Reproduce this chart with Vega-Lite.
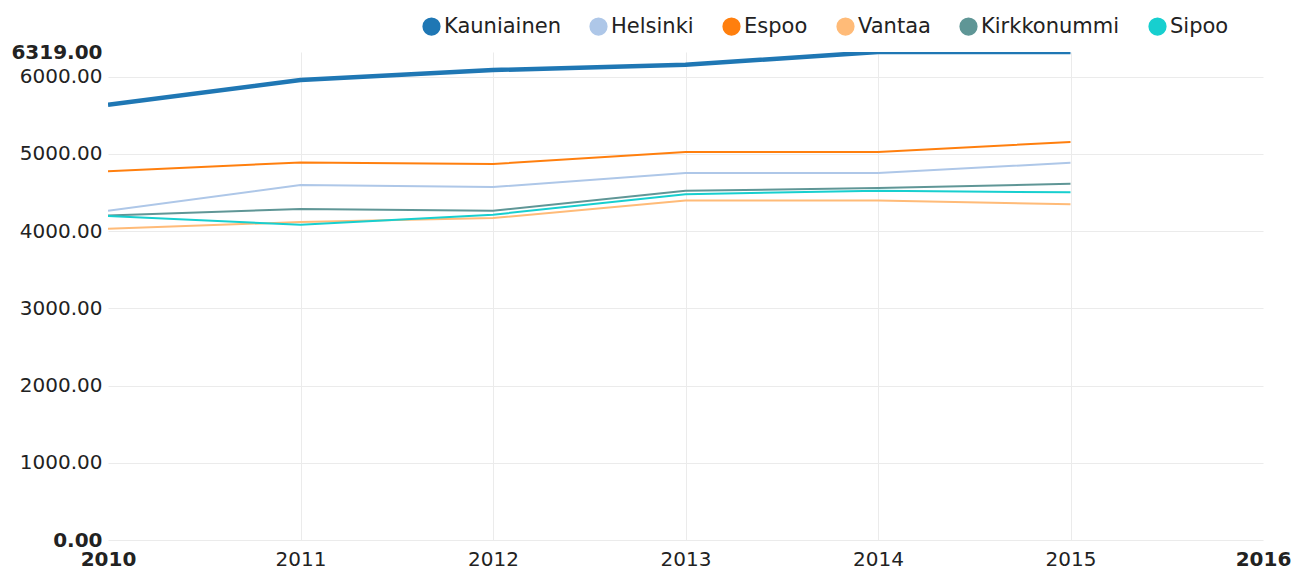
{
  "$schema": "https://vega.github.io/schema/vega-lite/v6.json",
  "autosize": "none",
  "width": 1155,
  "height": 488,
  "padding": {"left": 108, "top": 52, "right": 30, "bottom": 29},
  "background": "white",
  "config": {
    "view": {"stroke": null},
    "font": "DejaVu Sans"
  },
  "data": {
    "values": [
      {"kunta": "Kauniainen", "vuosi": 2010, "arvo": 5637},
      {"kunta": "Kauniainen", "vuosi": 2011, "arvo": 5955},
      {"kunta": "Kauniainen", "vuosi": 2012, "arvo": 6085},
      {"kunta": "Kauniainen", "vuosi": 2013, "arvo": 6155},
      {"kunta": "Kauniainen", "vuosi": 2014, "arvo": 6319},
      {"kunta": "Kauniainen", "vuosi": 2015, "arvo": 6319},
      {"kunta": "Helsinki", "vuosi": 2010, "arvo": 4263},
      {"kunta": "Helsinki", "vuosi": 2011, "arvo": 4597},
      {"kunta": "Helsinki", "vuosi": 2012, "arvo": 4571},
      {"kunta": "Helsinki", "vuosi": 2013, "arvo": 4752},
      {"kunta": "Helsinki", "vuosi": 2014, "arvo": 4752},
      {"kunta": "Helsinki", "vuosi": 2015, "arvo": 4885},
      {"kunta": "Espoo", "vuosi": 2010, "arvo": 4775},
      {"kunta": "Espoo", "vuosi": 2011, "arvo": 4889},
      {"kunta": "Espoo", "vuosi": 2012, "arvo": 4868},
      {"kunta": "Espoo", "vuosi": 2013, "arvo": 5024},
      {"kunta": "Espoo", "vuosi": 2014, "arvo": 5024},
      {"kunta": "Espoo", "vuosi": 2015, "arvo": 5154},
      {"kunta": "Vantaa", "vuosi": 2010, "arvo": 4030},
      {"kunta": "Vantaa", "vuosi": 2011, "arvo": 4117},
      {"kunta": "Vantaa", "vuosi": 2012, "arvo": 4169},
      {"kunta": "Vantaa", "vuosi": 2013, "arvo": 4397},
      {"kunta": "Vantaa", "vuosi": 2014, "arvo": 4395},
      {"kunta": "Vantaa", "vuosi": 2015, "arvo": 4348},
      {"kunta": "Kirkkonummi", "vuosi": 2010, "arvo": 4203},
      {"kunta": "Kirkkonummi", "vuosi": 2011, "arvo": 4285},
      {"kunta": "Kirkkonummi", "vuosi": 2012, "arvo": 4263},
      {"kunta": "Kirkkonummi", "vuosi": 2013, "arvo": 4522},
      {"kunta": "Kirkkonummi", "vuosi": 2014, "arvo": 4557},
      {"kunta": "Kirkkonummi", "vuosi": 2015, "arvo": 4613},
      {"kunta": "Sipoo", "vuosi": 2010, "arvo": 4194},
      {"kunta": "Sipoo", "vuosi": 2011, "arvo": 4082},
      {"kunta": "Sipoo", "vuosi": 2012, "arvo": 4212},
      {"kunta": "Sipoo", "vuosi": 2013, "arvo": 4478},
      {"kunta": "Sipoo", "vuosi": 2014, "arvo": 4522},
      {"kunta": "Sipoo", "vuosi": 2015, "arvo": 4502}
    ]
  },
  "mark": {"type": "line", "clip": true},
  "encoding": {
    "x": {
      "field": "vuosi",
      "type": "quantitative",
      "scale": {"domain": [2010, 2016], "nice": false, "zero": false},
      "axis": {
        "title": null,
        "values": [2010, 2011, 2012, 2013, 2014, 2015, 2016],
        "format": "d",
        "domain": false,
        "ticks": false,
        "labelPadding": 9,
        "labelFontSize": 20,
        "labelColor": "#222222",
        "labelFontWeight": {"condition": {"test": "datum.value == 2010 || datum.value == 2016", "value": "bold"}, "value": "normal"},
        "labelOverlap": false,
        "labelFlush": false,
        "gridColor": "#ebebeb",
        "gridOpacity": {"condition": {"test": "datum.value == 2010 || datum.value == 2016", "value": 0}, "value": 1}
      }
    },
    "y": {
      "field": "arvo",
      "type": "quantitative",
      "scale": {"domain": [0, 6319], "nice": false},
      "axis": {
        "title": null,
        "values": [0, 1000, 2000, 3000, 4000, 5000, 6000, 6319],
        "format": ".2f",
        "domain": false,
        "ticks": false,
        "labelPadding": 6,
        "labelFontSize": 20,
        "labelColor": "#222222",
        "labelFontWeight": {"condition": {"test": "datum.value == 0 || datum.value == 6319", "value": "bold"}, "value": "normal"},
        "labelOverlap": false,
        "labelFlush": false,
        "gridColor": "#ebebeb",
        "gridOpacity": {"condition": {"test": "datum.value == 6319", "value": 0}, "value": 1}
      }
    },
    "color": {
      "field": "kunta",
      "type": "nominal",
      "scale": {
        "domain": ["Kauniainen", "Helsinki", "Espoo", "Vantaa", "Kirkkonummi", "Sipoo"],
        "range": ["#1f77b4", "#aec7e8", "#ff7f0e", "#ffbb78", "#5f9696", "#17cfcf"]
      },
      "legend": {
        "title": null,
        "orient": "none",
        "direction": "horizontal",
        "legendX": 313,
        "legendY": -36,
        "symbolType": "circle",
        "symbolSize": 280,
        "labelFontSize": 21,
        "labelColor": "#222222",
        "labelOffset": 2,
        "columnPadding": 26,
        "encode": {
          "symbols": {
            "update": {
              "fill": {"scale": "color", "field": "value"},
              "stroke": {"value": "transparent"},
              "opacity": {"value": 1}
            }
          }
        }
      }
    },
    "strokeWidth": {
      "condition": {"test": "datum.kunta === 'Kauniainen'", "value": 4.5},
      "value": 2
    }
  }
}
